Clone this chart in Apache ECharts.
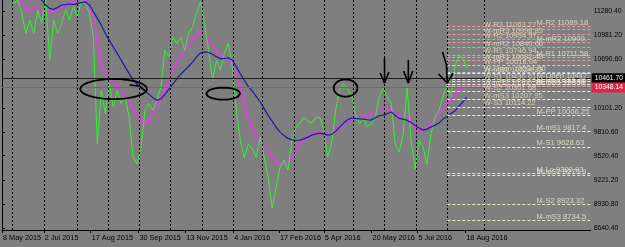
<!DOCTYPE html>
<html><head><meta charset="utf-8">
<script src="https://cdn.jsdelivr.net/npm/echarts@6/dist/echarts.min.js"></script>
<style>html,body{margin:0;padding:0;background:#7f7f7f}#c{width:625px;height:247px}</style>
</head><body><div id="c"></div>
<script>
// ---- data (x = bar sample index, y = price) ----
const priceLine = [
11577,11536,11455,11373,11414,11251,11007,11170,11007,11292,
11129,11414,10682,11170,11007,11129,11292,11170,11333,11211,
11414,11373,11251,10966,9664,10315,10031,10397,10112,10315,
10153,10234,9990,9502,9420,9624,10071,10153,10071,10193,
10356,10804,10722,10966,10885,10966,10804,11007,11088,11251,
11394,11129,10804,10437,10682,10559,10763,10885,10600,10071,
9705,9494,9664,9603,9506,9746,9502,9262,8883,9135,
9380,9469,9347,9709,9868,9917,9990,9941,9917,9982,
9990,9831,9506,9673,10075,10315,10397,10336,10254,10031,
9908,9969,9868,9908,9990,10234,10348,10234,10153,9664,
9563,9786,10348,9705,9359,9705,9624,9420,9786,9990,
10071,10234,10376,10234,10600,10743,10702,10580];
const maMagentaStart = 4;
const maMagenta = [
11495,11373,11312,11292,11333,11312,11272,11292,11251,11272,
11312,11333,11353,11373,11394,11414,11434,11414,11333,11170,
10926,10661,10519,10458,10417,10376,10324,10254,10193,10092,
10010,9941,9908,9949,10031,10120,10214,10336,10437,10559,
10661,10743,10804,10865,10926,10987,11027,11007,10926,10844,
10783,10743,10714,10690,10621,10498,10336,10153,9969,9848,
9746,9673,9624,9575,9502,9441,9420,9420,9441,9502,
9583,9664,9713,9754,9778,9795,9807,9799,9778,9786,
9819,9868,9908,9933,9969,9990,9990,9998,10010,10031,
10051,10079,10104,10104,10079,10039,10010,10022,10010,9929,
9848,9807,9827,9868,9917,9969,10031,10092,10153,10201,
10254,10307,10356,10397];
const maBlueStart = 9;
const maBlue = [
11455,11414,11353,11312,11300,11324,11353,11357,11365,11357,
11373,11386,11390,11353,11272,11190,11109,11007,10926,10844,
10763,10682,10600,10519,10446,10389,10344,10303,10267,10226,
10193,10210,10267,10328,10389,10454,10511,10559,10608,10661,
10722,10771,10783,10775,10755,10722,10702,10702,10710,10682,
10600,10519,10437,10364,10307,10242,10173,10092,10010,9941,
9868,9807,9766,9730,9713,9705,9709,9725,9746,9770,
9786,9795,9786,9770,9778,9819,9868,9917,9957,9978,
9974,9969,9965,9957,9953,9982,10006,10014,10031,10051,
10010,9974,9965,9949,9925,9888,9856,9831,9843,9868,
9892,9917,9965,9994,10031,10063,10120,10173,10234];

const xMax = 148.2;
const xLabelPos = [0, 10.53, 22.32, 34.36, 46.15, 58.19, 69.73, 81.01, 93.05, 104.6, 116.63];
const xLabelText = ['8 May 2015','2 Jul 2015','17 Aug 2015','30 Sep 2015','13 Nov 2015','4 Jan 2016','17 Feb 2016','5 Apr 2016','20 May 2016','5 Jul 2016','18 Aug 2016'];
const gridX = [2.51, 10.53, 19.06, 26.84, 34.61, 42.39, 50.41, 58.19, 65.46, 73.49, 81.01, 88.54, 96.31, 104.34, 112.11, 121.39];
const yTicks = [8640.40, 8930.80, 9221.20, 9520.40, 9810.60, 10101.20, 10690.60, 10981.20, 11280.40];
const bidPrice = 10461.70;
const askPrice = 10348.14;

const weeklyNames  = ['W-R3','W-mR3','W-R2','W-mR2','W-R1','W-mR1','W-PP','W-Open','W-mS1','W-S1','W-mS2','W-S2','W-mS3','W-S3'];
const weeklyValues = [11063.27,10998.83,10934.37,10840.66,10746.94,10682.49,10618.04,10534.90,10524.33,10430.61,10366.15,10301.68,10207.95,10114.22];
const monthlyNames  = ['M-R2','M-mR2','M-R1','M-Open','M-Hi','M-mR1','M-PP','M-mS1','M-S1','M-Lo','M-mS2','M-S2','M-mS3'];
const monthlyValues = [11089.18,10900.38,10711.58,10447.06,10383.85,10358.92,10006.25,9817.44,9628.63,9300.93,9275.98,8923.32,8734.51];

// hand-drawn annotations (data units: [index, price, radiusIndex, radiusPrice])
const annotEllipses = [[28.1,10331,8.4,122],[55.7,10275,4.3,73],[86.5,10343,3.0,105]];
const annotStrokes = [
  [[96.3,10708],[96.3,10404]], [[95.2,10526],[96.3,10404],[97.4,10538]],
  [[102.3,10684],[102.3,10404]], [[101.1,10550],[102.3,10404],[103.4,10550]],
  [[110.9,10782],[111.9,10623],[112.1,10404]], [[109.9,10514],[112.1,10404],[113.6,10526]],
  [[32.1,10380],[34.6,10368],[36.4,10295]]
];

// ---- styles ----
const levelStartIdx = 112.11, wLabelIdx = 121.4, mLabelIdx = 134.7;
function levelColor(name){
  if (/^W-(m?R)/.test(name) || /^M-(m?R)/.test(name)) return '#e6a0a0';
  if (name === 'W-PP') return '#f0c8a8';
  if (name === 'W-Open') return '#b8cce0';
  if (/^M-(Lo|mS2|S2|mS3)/.test(name)) return '#e4eeb0';
  return '#ececec';
}
const font = 'Liberation Sans';

const chart = echarts.init(document.getElementById('c'), null, {renderer:'canvas'});
const ellipseSeries = annotEllipses.map(e => {
  const pts = [];
  for (let k = 0; k <= 60; k++) { const t = k/60*2*Math.PI; pts.push([e[0]+e[2]*Math.cos(t), e[1]+e[3]*Math.sin(t)]); }
  return {type:'line', data:pts, symbol:'none', silent:true, z:6, lineStyle:{color:'#000', width:1.8}};
});
const strokeSeries = annotStrokes.map(s => ({type:'line', data:s, symbol:'none', silent:true, z:6, lineStyle:{color:'#000', width:1.6}}));

const levelLines = [];
weeklyNames.forEach((n,i)=>levelLines.push([{coord:[levelStartIdx, weeklyValues[i]], lineStyle:{color:levelColor(n)}},{coord:[xMax, weeklyValues[i]]}]));
monthlyNames.forEach((n,i)=>levelLines.push([{coord:[levelStartIdx, monthlyValues[i]], lineStyle:{color:levelColor(n)}},{coord:[xMax, monthlyValues[i]]}]));

const wLabels = weeklyNames.map((n,i)=>({value:[wLabelIdx, weeklyValues[i]], label:{formatter: n+' '+weeklyValues[i].toFixed(2), color:'#efe2c0'}}));
const mLabels = monthlyNames.map((n,i)=>({value:[mLabelIdx, monthlyValues[i]], label:{formatter: n+' '+monthlyValues[i].toFixed(2), color:'#f2ead6'}}));

chart.setOption({
  backgroundColor:'#7f7f7f',
  animation:false,
  grid:{left:0, right:34, top:0, bottom:17},
  xAxis:{type:'value', min:0, max:xMax,
    axisLine:{show:true, lineStyle:{color:'#000', width:1}},
    axisTick:{show:true, customValues:xLabelPos, length:3, lineStyle:{color:'#000'}},
    axisLabel:{customValues:xLabelPos, formatter:v=>xLabelText[xLabelPos.indexOf(v)] || '', align:'left', margin:4, padding:[0,0,0,1], color:'#000', fontSize:7.3, fontFamily:font},
    splitLine:{show:false}},
  yAxis:{type:'value', position:'right', min:8616, max:11414,
    axisLine:{show:true, lineStyle:{color:'#000', width:1}},
    axisTick:{show:true, customValues:yTicks, length:3, lineStyle:{color:'#000'}},
    axisLabel:{customValues:yTicks, formatter:v=>v.toFixed(2), margin:3, color:'#000', fontSize:6.8, fontFamily:font},
    splitLine:{show:false}},
  series:[
    {type:'line', data:[], silent:true, z:1,
     markLine:{symbol:'none', silent:true, animation:false, label:{show:false},
       lineStyle:{color:'#000', type:[2,2], width:1},
       data: gridX.map(v=>({xAxis:v}))}},
    {type:'line', data:[], silent:true, z:1,
     markLine:{symbol:'none', silent:true, animation:false,
       data:[
        {yAxis:bidPrice, lineStyle:{color:'#1e1e1e', type:'solid', width:1},
         label:{show:true, position:'end', distance:1, formatter:bidPrice.toFixed(2), backgroundColor:'#000', color:'#fff', padding:[2,3,1,3], fontSize:6.8, fontFamily:font}},
        {yAxis:askPrice, lineStyle:{color:'#e2344c', type:'solid', width:1},
         label:{show:true, position:'end', distance:1, formatter:askPrice.toFixed(2), backgroundColor:'#e2244a', color:'#fff', padding:[2,3,1,3], fontSize:6.8, fontFamily:font}}
       ]}},
    {name:'MA slow', type:'line', data:maMagenta.map((v,i)=>[i+maMagentaStart, v]), symbol:'none', z:2,
     lineStyle:{color:'#bf55c0', width:3}},
    {name:'Price', type:'line', data:priceLine.map((v,i)=>[i, v]), symbol:'none', z:3,
     lineStyle:{color:'#36ef36', width:1}},
    {name:'MA long', type:'line', data:maBlue.map((v,i)=>[i+maBlueStart, v]), symbol:'none', z:4,
     lineStyle:{color:'#1c1ca8', width:1.2}},
    {type:'line', data:[], silent:true, z:5,
     markLine:{symbol:'none', silent:true, animation:false, label:{show:false},
       lineStyle:{type:[3,2], width:1},
       data: levelLines}},
    {type:'scatter', data:wLabels, symbolSize:1, silent:true, z:7, itemStyle:{color:'rgba(0,0,0,0)'},
     label:{show:true, position:[0,1], align:'left', verticalAlign:'bottom', fontSize:7.6, fontFamily:font}},
    {type:'scatter', data:mLabels, symbolSize:1, silent:true, z:7, itemStyle:{color:'rgba(0,0,0,0)'},
     label:{show:true, position:[0,1], align:'left', verticalAlign:'bottom', fontSize:7.6, fontFamily:font, width:54, overflow:'truncate', ellipsis:''}},
    ...ellipseSeries,
    ...strokeSeries
  ]
});
</script>
</body></html>
